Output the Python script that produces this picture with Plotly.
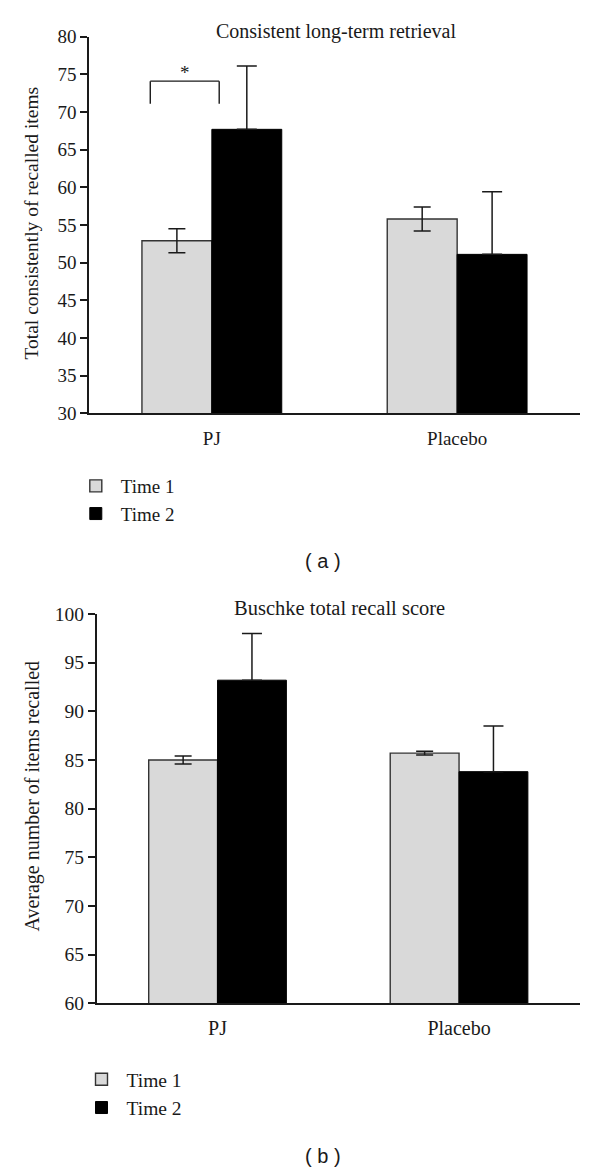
import plotly.graph_objects as go

# ---------------- data ----------------
categories = ["PJ", "Placebo"]
series_names = ["Time 1", "Time 2"]

# (a) Consistent long-term retrieval
a_time1 = [52.9, 55.8]
a_time1_err = [1.6, 1.6]
a_time2 = [67.7, 51.1]
a_time2_err = [8.4, 8.3]

# (b) Buschke total recall score
b_time1 = [85.0, 85.7]
b_time1_err = [0.4, 0.2]
b_time2 = [93.2, 83.8]
b_time2_err = [4.8, 4.7]

a_yticks = [30, 35, 40, 45, 50, 55, 60, 65, 70, 75, 80]
b_yticks = [60, 65, 70, 75, 80, 85, 90, 95, 100]
# x-axis tick marks sit on the category boundaries (left edge and between groups)
x_boundaries = [-0.5, 0.5]

a_title = "Consistent long-term retrieval"
b_title = "Buschke total recall score"
a_ytitle = "Total consistently of recalled items"
b_ytitle = "Average number of items recalled"

# significance bracket for (a): x in category units, y in data units
bracket_x = [-0.251, 0.030]
bracket_y = [71.1, 74.1]
star_y = 75.2

# ---------------- styling ----------------
SERIF = "Liberation Serif, Times New Roman, serif"
SANS = "Liberation Sans, Arial, sans-serif"
INK = "#1a1a1a"
LIGHT = "#d9d9d9"

W, H = 600, 1172
BODY = 8  # default page margin of the html body


def px_x(p):
    return (p - BODY) / W


def px_y(p):
    return 1 - (p - BODY) / H


fig = go.Figure()

panels = [
    dict(t1=a_time1, e1=a_time1_err, t2=a_time2, e2=a_time2_err,
         xa="x", ya="y", legend="legend"),
    dict(t1=b_time1, e1=b_time1_err, t2=b_time2, e2=b_time2_err,
         xa="x2", ya="y2", legend="legend2"),
]

for p in panels:
    fig.add_trace(go.Bar(
        x=categories, y=p["t1"], name=series_names[0],
        xaxis=p["xa"], yaxis=p["ya"], legend=p["legend"],
        marker=dict(color=LIGHT, line=dict(color="#333333", width=1.4)),
        error_y=dict(type="data", array=p["e1"], visible=True,
                     color=INK, thickness=1.5, width=8.5),
    ))
    # lower whisker of Time 2 is hidden inside the black bar
    fig.add_trace(go.Bar(
        x=categories, y=p["t2"], name=series_names[1],
        xaxis=p["xa"], yaxis=p["ya"], legend=p["legend"],
        marker=dict(color="black", line=dict(color="black", width=1)),
        error_y=dict(type="data", array=p["e2"], symmetric=False,
                     arrayminus=[0] * len(p["e2"]), visible=True,
                     color=INK, thickness=1.5, width=10),
    ))


def xax(size, standoff):
    return dict(type="category", range=[-0.5, 1.5], showline=True, linecolor=INK,
                linewidth=1.6, ticks="", showgrid=False, zeroline=False,
                automargin=False, ticklabelstandoff=standoff,
                tickfont=dict(family=SERIF, size=size, color=INK))


def xtickax(over, anchor):
    return dict(overlaying=over, anchor=anchor, type="linear", range=[-0.5, 1.5],
                tickmode="array", tickvals=x_boundaries, showticklabels=False,
                ticks="outside", ticklen=7, tickcolor=INK, tickwidth=1.6,
                showline=False, showgrid=False, zeroline=False, automargin=False,
                side="bottom")


def yax(size):
    return dict(showline=True, linecolor=INK, linewidth=1.6, ticks="outside",
                ticklen=7, tickcolor=INK, tickwidth=1.6, showgrid=False,
                zeroline=False, automargin=False,
                tickfont=dict(family=SERIF, size=size, color=INK))


fig.update_layout(
    width=W, height=H,
    margin=dict(l=0, r=0, t=0, b=0, pad=0, autoexpand=False),
    paper_bgcolor="white", plot_bgcolor="white",
    barmode="group", bargap=0.43, bargroupgap=0,
    xaxis=dict(domain=[px_x(89.2), px_x(579.8)], anchor="y", **xax(19, 7)),
    yaxis=dict(domain=[px_y(413.3), px_y(36.7)], anchor="x", range=[30, 80],
               tickvals=a_yticks, **yax(19)),
    xaxis2=dict(domain=[px_x(96.8), px_x(579.8)], anchor="y2", **xax(20, 6)),
    yaxis2=dict(domain=[px_y(1003.3), px_y(614)], anchor="x2", range=[60, 100],
                tickvals=b_yticks, **yax(19.5)),
    xaxis3=xtickax("x", "y"),
    xaxis4=xtickax("x2", "y2"),
    legend=dict(x=px_x(70.8), y=px_y(467), xanchor="left", yanchor="top",
                itemwidth=40,
                bgcolor="rgba(0,0,0,0)", font=dict(family=SERIF, size=19, color=INK)),
    legend2=dict(x=px_x(76.5), y=px_y(1060), xanchor="left", yanchor="top",
                 itemwidth=40,
                 bgcolor="rgba(0,0,0,0)", font=dict(family=SERIF, size=19.5, color=INK)),
    showlegend=True,
)


def note(text, x, y, family=SERIF, size=20, angle=0):
    return dict(text=text, x=px_x(x), y=px_y(y), xref="paper", yref="paper",
                xanchor="center", yanchor="middle", textangle=angle,
                showarrow=False, font=dict(family=family, size=size, color=INK))


annotations = [
    note(a_title, 335.8, 31, size=20),
    note(b_title, 339.1, 608, size=20.5),
    note(a_ytitle, 31, 223.5, size=19.5, angle=-90),
    note(b_ytitle, 32, 796.5, size=20, angle=-90),
    note("( a )", 323.4, 561, family=SANS, size=20),
    note("( b )", 322.6, 1156, family=SANS, size=20),
    dict(text="*", x=sum(bracket_x) / 2, y=star_y, xref="x", yref="y",
         xanchor="center", yanchor="middle",
         showarrow=False, font=dict(family=SERIF, size=19, color=INK)),
]
fig.update_layout(annotations=annotations)

bl = dict(color=INK, width=1.4)
fig.add_shape(type="line", xref="x", yref="y", x0=bracket_x[0], x1=bracket_x[0],
              y0=bracket_y[0], y1=bracket_y[1], line=bl)
fig.add_shape(type="line", xref="x", yref="y", x0=bracket_x[1], x1=bracket_x[1],
              y0=bracket_y[0], y1=bracket_y[1], line=bl)
fig.add_shape(type="line", xref="x", yref="y", x0=bracket_x[0], x1=bracket_x[1],
              y0=bracket_y[1], y1=bracket_y[1], line=bl)

fig.write_html("out.html")
